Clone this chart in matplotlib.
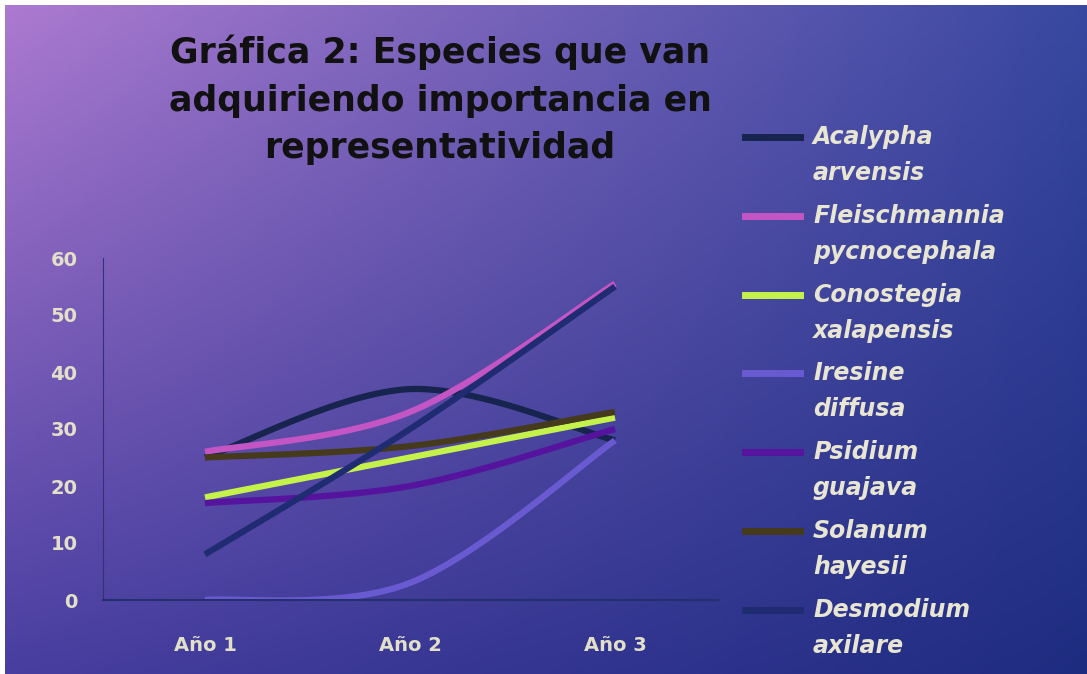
import matplotlib
matplotlib.use("Agg")
import matplotlib.pyplot as plt
from matplotlib.lines import Line2D
import numpy as np

# data
years = ["Año 1", "Año 2", "Año 3"]
species = ["Acalypha\narvensis", "Fleischmannia\npycnocephala", "Conostegia\nxalapensis",
           "Iresine\ndiffusa", "Psidium\nguajava", "Solanum\nhayesii", "Desmodium\naxilare"]
acalypha = [25, 37, 28]
fleischmannia = [26, 33, 55.5]
conostegia = [18, 25, 32]
iresine = [0, 3, 28]
psidium = [17, 20, 30]
solanum = [25, 27, 33]
desmodium = [8, 30, 55]
series = [acalypha, fleischmannia, conostegia, iresine, psidium, solanum, desmodium]
colors = ["#16244e", "#c455c4", "#c4f24a", "#6a5ad2", "#55139e", "#463a1c", "#1f2c72"]

W, H = 1087, 674
fig = plt.figure(figsize=(W / 100, H / 100), dpi=100, facecolor="white")

# gradient backdrop (4 corner colours blended)
bg = fig.add_axes([0.005, 0, 0.995, 0.992])
bg.set_axis_off()
tl = np.array([172, 122, 208]) / 255.
tr = np.array([56, 72, 160]) / 255.
bl = np.array([72, 62, 160]) / 255.
br = np.array([30, 44, 128]) / 255.
u = np.linspace(0, 1, 300)[None, :, None]
v = np.linspace(0, 1, 200)[:, None, None]
img = (1 - v) * ((1 - u) * tl + u * tr) + v * ((1 - u) * bl + u * br)
bg.imshow(img, aspect="auto", extent=[0, 1, 0, 1], origin="upper")
bg.set_xlim(0, 1)
bg.set_ylim(0, 1)


def smooth(y, n=40):
    # excel-like smoothed line: cubic bezier with catmull-rom controls
    x = np.arange(1, len(y) + 1, dtype=float)
    P = np.column_stack([x, np.array(y, dtype=float)])
    out = []
    t = np.linspace(0, 1, n)[:, None]
    for i in range(len(P) - 1):
        p0 = P[max(i - 1, 0)]
        p3 = P[min(i + 2, len(P) - 1)]
        c1 = P[i] + (P[i + 1] - p0) / 6
        c2 = P[i + 1] - (p3 - P[i]) / 6
        seg = ((1 - t) ** 3) * P[i] + 3 * ((1 - t) ** 2) * t * c1 + 3 * (1 - t) * t ** 2 * c2 + t ** 3 * P[i + 1]
        out.append(seg)
    c = np.vstack(out)
    return c[:, 0], c[:, 1]


ax = fig.add_axes([102.5 / W, 1 - 600 / H, 615 / W, 342 / H])
ax.patch.set_alpha(0)
for s, c in zip(series, colors):
    xs, ys = smooth(s)
    ax.plot(xs, ys, color=c, lw=4.5, solid_capstyle="butt")

ax.set_xlim(0.5, 3.5)
ax.set_ylim(0, 60)
ax.set_xticks([1, 2, 3])
ax.set_xticklabels(years)
ax.set_yticks(range(0, 61, 10))
for sp in ["top", "right"]:
    ax.spines[sp].set_visible(False)
ax.spines["left"].set_color("#35307a")
ax.spines["bottom"].set_color("#24306e")
ax.spines["bottom"].set_linewidth(1.5)
ax.tick_params(axis="both", length=0, colors="#e2e0c8", labelsize=14)
ax.tick_params(axis="y", pad=18)
ax.tick_params(axis="x", pad=26)
for lab in ax.get_xticklabels() + ax.get_yticklabels():
    lab.set_fontweight("bold")

fig.text(440 / W, 1 - 100 / H,
         "Gráfica 2: Especies que van\nadquiriendo importancia en\nrepresentatividad",
         ha="center", va="center", fontsize=25, fontweight="bold", color="#111111",
         linespacing=1.5)

# legend drawn by hand so the key sits on the first line of each name
for i, (name, c) in enumerate(zip(species, colors)):
    y0 = 137 + 78.8 * i
    fig.add_artist(Line2D([745 / W, 800 / W], [1 - y0 / H, 1 - y0 / H], color=c, lw=5,
                          transform=fig.transFigure))
    first, second = name.split("\n")
    fig.text(813 / W, 1 - y0 / H, first, ha="left", va="center", fontsize=17,
             fontweight="bold", style="italic", color="#e8e6d2")
    fig.text(813 / W, 1 - (y0 + 36) / H, second, ha="left", va="center", fontsize=17,
             fontweight="bold", style="italic", color="#e8e6d2")

fig.savefig("out.png", dpi=100)
